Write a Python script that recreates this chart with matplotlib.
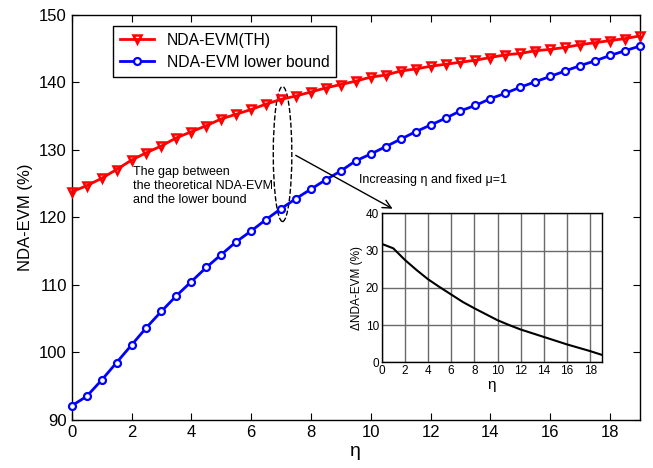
import numpy as np
import matplotlib
matplotlib.use("Agg")
import matplotlib.pyplot as plt
from matplotlib.patches import Ellipse

plt.rcParams['font.family'] = ['Liberation Sans', 'DejaVu Sans']

eta = [i * 0.5 for i in range(39)]
evm_th = [123.8, 124.7, 125.8, 127.1, 128.5, 129.6, 130.6, 131.8, 132.7, 133.6,
          134.6, 135.3, 136.0, 136.8, 137.5, 138.0, 138.6, 139.2, 139.7, 140.2,
          140.8, 141.1, 141.7, 142.0, 142.4, 142.7, 143.0, 143.3, 143.7, 144.1,
          144.3, 144.7, 144.9, 145.2, 145.6, 145.9, 146.2, 146.5, 146.9]
evm_lb = [92.1, 93.5, 95.9, 98.5, 101.1, 103.7, 106.1, 108.4, 110.5, 112.6,
          114.5, 116.4, 118.0, 119.7, 121.3, 122.8, 124.2, 125.6, 126.9, 128.4,
          129.4, 130.5, 131.6, 132.7, 133.7, 134.7, 135.8, 136.6, 137.6, 138.4,
          139.3, 140.1, 140.9, 141.7, 142.5, 143.2, 144.0, 144.7, 145.4]

inset_eta = list(range(20))
delta_evm = [31.8, 30.6, 27.5, 24.8, 22.3, 20.2, 18.2, 16.2, 14.5, 12.9,
             11.3, 10.0, 8.8, 7.8, 6.8, 5.8, 4.8, 3.9, 3.0, 2.0]

main_xticks = list(range(0, 19, 2))
main_yticks = list(range(90, 151, 10))
inset_xticks = list(range(0, 19, 2))
inset_yticks = list(range(0, 41, 10))

fig = plt.figure(figsize=(6.53, 4.68), dpi=100)
ax = fig.add_axes([0.1098, 0.1026, 0.8702, 0.8654])

ax.plot(eta, evm_th, color='red', lw=2, marker='v', ms=5.5, mfc='none', mew=1.8,
        label='NDA-EVM(TH)', clip_on=False, zorder=3)
ax.plot(eta, evm_lb, color='blue', lw=2, marker='o', ms=5, mfc='white', mew=1.6,
        label='NDA-EVM lower bound', clip_on=False, zorder=3)

ax.set_xlim(0, 19)
ax.set_ylim(90, 150)
ax.set_xticks(main_xticks)
ax.set_yticks(main_yticks)
ax.tick_params(direction='in', top=True, right=True, labelsize=12, length=5)
ax.set_xlabel('η', fontsize=14, labelpad=2)
ax.set_ylabel('NDA-EVM (%)', fontsize=12, labelpad=4)
for s in ax.spines.values():
    s.set_linewidth(1)

leg = ax.legend(loc='upper left', bbox_to_anchor=(0.058, 0.993), fontsize=11.3,
                fancybox=False, edgecolor='black', framealpha=1,
                handlelength=2.2, borderpad=0.45, labelspacing=0.45)
leg.get_frame().set_linewidth(1)

ell = Ellipse((7.05, 129.4), 0.62, 20, fill=False, ls='--', lw=1, edgecolor='black')
ax.add_patch(ell)
ax.annotate('', xy=(10.81, 121.1), xytext=(7.41, 129.4),
            arrowprops=dict(arrowstyle='->', color='black', lw=1, mutation_scale=15))

ax.text(2.05, 127.6, 'The gap between\nthe theoretical NDA-EVM\nand the lower bound',
        fontsize=9, va='top', ha='left', linespacing=1.2)
ax.text(9.6, 125.6, 'Increasing η and fixed μ=1', fontsize=9, va='center', ha='left')

ins = fig.add_axes([0.5845, 0.2259, 0.337, 0.3183])
ins.plot(inset_eta, delta_evm, color='black', lw=1.5)
ins.set_xlim(0, 19)
ins.set_ylim(0, 40)
ins.set_xticks(inset_xticks)
ins.set_yticks(inset_yticks)
ins.grid(True, color='#6a6a6a', lw=1)
ins.tick_params(direction='in', labelsize=8.5, length=0, pad=2)
ins.set_xlabel('η', fontsize=11, labelpad=1)
ins.set_ylabel('ΔNDA-EVM (%)', fontsize=8.5, labelpad=2)
for s in ins.spines.values():
    s.set_linewidth(1)

fig.savefig('out.png', dpi=100)
